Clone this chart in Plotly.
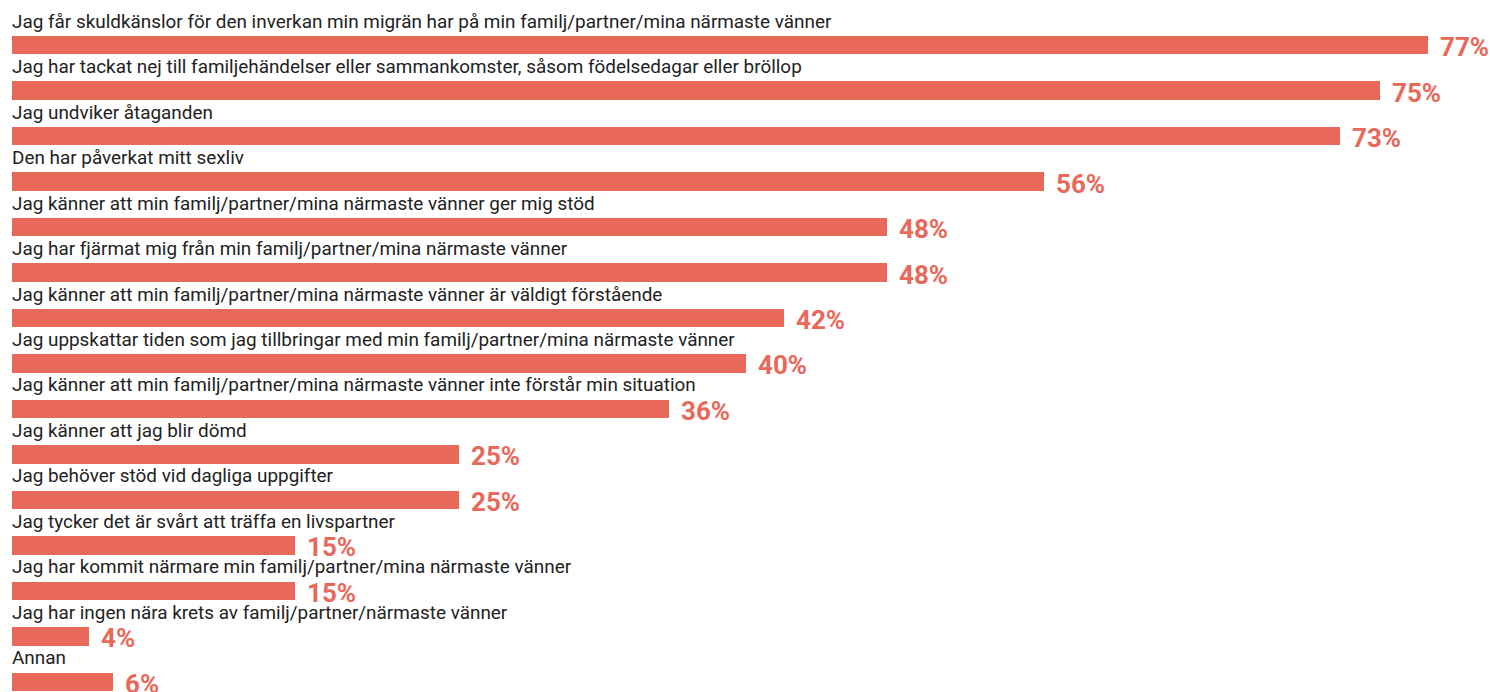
import plotly.graph_objects as go

categories = [
    "Jag får skuldkänslor för den inverkan min migrän har på min familj/partner/mina närmaste vänner",
    "Jag har tackat nej till familjehändelser eller sammankomster, såsom födelsedagar eller bröllop",
    "Jag undviker åtaganden",
    "Den har påverkat mitt sexliv",
    "Jag känner att min familj/partner/mina närmaste vänner ger mig stöd",
    "Jag har fjärmat mig från min familj/partner/mina närmaste vänner",
    "Jag känner att min familj/partner/mina närmaste vänner är väldigt förstående",
    "Jag uppskattar tiden som jag tillbringar med min familj/partner/mina närmaste vänner",
    "Jag känner att min familj/partner/mina närmaste vänner inte förstår min situation",
    "Jag känner att jag blir dömd",
    "Jag behöver stöd vid dagliga uppgifter",
    "Jag tycker det är svårt att träffa en livspartner",
    "Jag har kommit närmare min familj/partner/mina närmaste vänner",
    "Jag har ingen nära krets av familj/partner/närmaste vänner",
    "Annan",
]
values = [77.0, 74.4, 72.2, 56.1, 47.6, 47.6, 42.0, 39.9, 35.7, 24.3, 24.3, 15.4, 15.4, 4.2, 5.5]
labels = ["77%", "75%", "73%", "56%", "48%", "48%", "42%", "40%", "36%", "25%", "25%", "15%", "15%", "4%", "6%"]

BAR = "#E8685A"
rows = list(range(len(categories)))

fig = go.Figure()
fig.add_trace(go.Bar(
    x=values, y=rows, orientation="h",
    marker=dict(color=BAR, line=dict(width=0)),
    width=0.396, hoverinfo="skip",
))

annotations = []
for i, (cat, v, lab) in enumerate(zip(categories, values, labels)):
    annotations.append(dict(
        x=0, y=i, xref="x", yref="y", text=cat, showarrow=False,
        xanchor="left", yanchor="middle", yshift=24, xshift=-2,
        font=dict(family="Roboto", size=18.9, color="#222222"),
    ))
    annotations.append(dict(
        x=v, y=i, xref="x", yref="y", text=lab, showarrow=False,
        xanchor="left", yanchor="middle", yshift=-2, xshift=10,
        font=dict(family="Roboto", size=26, color=BAR, weight="bold"),
    ))

fig.update_layout(
    width=1490, height=692,
    margin=dict(l=12, r=0, t=0, b=0),
    paper_bgcolor="white", plot_bgcolor="white",
    showlegend=False,
    annotations=annotations,
    xaxis=dict(range=[0, 80.37], visible=False, fixedrange=True),
    yaxis=dict(range=[14.22, -0.989], visible=False, fixedrange=True),
    bargap=0,
)

fig.write_html("out.html", config={"displayModeBar": False})
